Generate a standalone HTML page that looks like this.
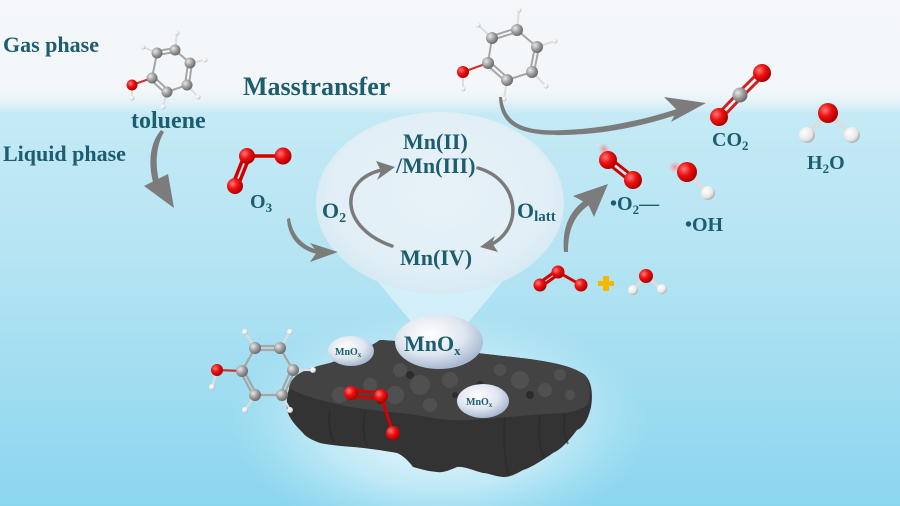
<!DOCTYPE html>
<html><head><meta charset="utf-8"><style>
html,body{margin:0;padding:0;background:#fff;width:900px;height:506px;overflow:hidden}
svg{display:block}
text{font-family:"Liberation Serif",serif;font-weight:bold;fill:#1c5d70}
</style></head><body>
<svg width="900" height="506" viewBox="0 0 900 506" xmlns="http://www.w3.org/2000/svg">
<defs>
<linearGradient id="bg" x1="0" y1="0" x2="0" y2="1">
<stop offset="0" stop-color="#f5f7fa"/>
<stop offset="0.18" stop-color="#f3f7fa"/>
<stop offset="0.2" stop-color="#e4f3f8"/>
<stop offset="0.225" stop-color="#c4eaf5"/>
<stop offset="0.5" stop-color="#b6e4f3"/>
<stop offset="1" stop-color="#8bd6ef"/>
</linearGradient>
<radialGradient id="glow" gradientUnits="userSpaceOnUse" cx="440" cy="425" r="210" gradientTransform="translate(440,425) scale(1,0.55) translate(-440,-425)">
<stop offset="0" stop-color="#ffffff" stop-opacity="0.9"/>
<stop offset="0.55" stop-color="#e8f7fc" stop-opacity="0.55"/>
<stop offset="1" stop-color="#c8eef8" stop-opacity="0"/>
</radialGradient>
<radialGradient id="bub" cx="0.5" cy="0.45" r="0.55">
<stop offset="0" stop-color="#eaf3f8"/>
<stop offset="0.8" stop-color="#e3eff6"/>
<stop offset="1" stop-color="#d6e9f3"/>
</radialGradient>
<radialGradient id="mn" cx="0.4" cy="0.35" r="0.65">
<stop offset="0" stop-color="#ffffff"/>
<stop offset="0.6" stop-color="#dfe6f0"/>
<stop offset="1" stop-color="#a9b9d0"/>
</radialGradient>
<radialGradient id="gC" cx="0.35" cy="0.35" r="0.65">
<stop offset="0" stop-color="#e8e8e8"/><stop offset="0.6" stop-color="#9a9a9a"/><stop offset="1" stop-color="#6d6d6d"/>
</radialGradient>
<radialGradient id="gO" cx="0.35" cy="0.35" r="0.65">
<stop offset="0" stop-color="#ff7a7a"/><stop offset="0.5" stop-color="#ee1111"/><stop offset="1" stop-color="#b00000"/>
</radialGradient>
<radialGradient id="gH" cx="0.35" cy="0.35" r="0.65">
<stop offset="0" stop-color="#ffffff"/><stop offset="0.7" stop-color="#e8e8e8"/><stop offset="1" stop-color="#b5b5b5"/>
</radialGradient>
<radialGradient id="pink" cx="0.5" cy="0.5" r="0.5">
<stop offset="0" stop-color="#ff7f8a" stop-opacity="0.9"/><stop offset="1" stop-color="#ff9aa2" stop-opacity="0"/>
</radialGradient>
</defs>

<rect width="900" height="506" fill="url(#bg)"/>
<rect x="230" y="310" width="420" height="196" fill="url(#glow)"/>

<!-- big bubble + cone -->
<polygon points="378,282 502,282 462,330 418,330" fill="#ffffff" opacity="0.45"/>
<ellipse cx="440" cy="203" rx="124" ry="91" fill="url(#bub)" opacity="0.95"/>

<!-- cycle arrows -->
<g fill="none" stroke="#7b7b7b" stroke-width="3.5" stroke-linecap="round">
<path d="M392,246 C340,228 338,180 382,170"/>
<path d="M478,168 C520,180 525,230 488,246"/>
</g>
<path d="M395,167 L376,161 L381,171 L377,180 Z" fill="#7b7b7b"/>
<path d="M480,247 L498,252 L492,243 L495,236 Z" fill="#7b7b7b"/>

<text x="403" y="149" font-size="22">Mn(II)</text>
<text x="396" y="173" font-size="22">/Mn(III)</text>
<text x="400" y="265" font-size="22">Mn(IV)</text>
<text x="322" y="218" font-size="22">O<tspan font-size="14" dy="4">2</tspan></text>
<text x="517" y="218" font-size="22">O<tspan font-size="15" dy="3">latt</tspan></text>

<!-- catalyst -->
<path d="M297,375 C305,370 313,367 330,363 C350,356 365,350 380,340 C420,342 450,350 477,353 C500,356 530,358 553,363 C568,366 578,370 585,375 C592,382 593,395 591,407 C588,420 583,428 577,430 C568,442 560,450 553,453 C540,462 530,468 523,470 C513,476 508,477 503,477 C493,476 488,473 483,473 C472,470 464,466 457,467 C450,470 443,473 437,472 C425,471 418,468 413,467 C408,460 402,455 397,453 C380,450 365,448 353,447 C340,446 330,445 320,443 C312,440 306,437 303,433 C295,425 289,418 287,410 C286,398 288,385 297,375 Z" fill="#333333"/>
<path d="M297,375 C305,370 313,367 330,363 C350,356 365,350 380,340 C420,342 450,350 477,353 C500,356 530,358 553,363 C568,366 578,370 585,375 C590,382 591,395 588,405 C580,410 570,413 560,413 C530,415 500,418 470,420 C450,421 430,418 410,414 C390,412 370,410 350,407 C325,402 300,395 289,388 C290,382 293,378 297,375 Z" fill="#434343"/>
<g fill="#555" opacity="0.75">
<circle cx="420" cy="385" r="10"/><circle cx="450" cy="380" r="8"/><circle cx="395" cy="395" r="9"/>
<circle cx="520" cy="380" r="9"/><circle cx="545" cy="390" r="7"/><circle cx="470" cy="400" r="9"/>
<circle cx="370" cy="385" r="7"/><circle cx="500" cy="370" r="6"/><circle cx="560" cy="375" r="6"/>
<circle cx="340" cy="395" r="8"/><circle cx="430" cy="405" r="7"/><circle cx="400" cy="370" r="7"/><circle cx="570" cy="395" r="5"/>
</g>
<g fill="#2a2a2a" opacity="0.9">
<circle cx="410" cy="375" r="4"/><circle cx="480" cy="385" r="4"/><circle cx="530" cy="395" r="4"/><circle cx="380" cy="400" r="4"/><circle cx="455" cy="395" r="3"/>
</g>
<g stroke="#2a2a2a" stroke-width="2" opacity="0.6" fill="none">
<path d="M330,410 C328,425 330,435 334,442"/><path d="M365,412 C362,428 364,440 368,448"/>
<path d="M505,418 C503,440 505,460 508,475"/><path d="M540,416 C538,435 540,450 544,458"/><path d="M565,414 C563,428 565,438 568,444"/>
</g>

<!-- MnOx bubbles -->
<ellipse cx="439" cy="342" rx="44" ry="27" fill="url(#mn)"/>
<text x="404" y="351" font-size="22">MnO<tspan font-size="13" dy="4">x</tspan></text>
<ellipse cx="351" cy="351" rx="23" ry="15" fill="url(#mn)"/>
<text x="335" y="355" font-size="10">MnO<tspan font-size="7" dy="2">x</tspan></text>
<ellipse cx="483" cy="401" rx="26" ry="17" fill="url(#mn)"/>
<text x="466" y="405" font-size="10">MnO<tspan font-size="7" dy="2">x</tspan></text>

<!-- O3 on catalyst -->
<g stroke="#d40000" stroke-width="3">
<line x1="351" y1="393" x2="381" y2="396" transform="translate(0,-3)"/>
<line x1="351" y1="393" x2="381" y2="396" transform="translate(0,3)"/>
<line x1="381" y1="396" x2="393" y2="433"/>
</g>
<circle cx="351" cy="393" r="7" fill="url(#gO)"/>
<circle cx="381" cy="396" r="7" fill="url(#gO)"/>
<circle cx="393" cy="433" r="7" fill="url(#gO)"/>

<!-- lower-left molecule -->
<g stroke="#a6a6a6" stroke-width="2.2">
<line x1="255" y1="348" x2="280" y2="348" transform="translate(0,-2)"/><line x1="255" y1="348" x2="280" y2="348" transform="translate(0,2)"/>
<line x1="280" y1="348" x2="293" y2="370"/>
<line x1="293" y1="370" x2="282" y2="395" transform="translate(-2,0)"/><line x1="293" y1="370" x2="282" y2="395" transform="translate(2,0)"/>
<line x1="282" y1="395" x2="255" y2="395"/>
<line x1="255" y1="395" x2="242" y2="371" transform="translate(-2,0)"/><line x1="255" y1="395" x2="242" y2="371" transform="translate(2,0)"/>
<line x1="242" y1="371" x2="255" y2="348"/>
<line x1="242" y1="371" x2="217" y2="370" stroke="#c33"/>
<line x1="255" y1="348" x2="245" y2="332" stroke="#ddd"/><line x1="280" y1="348" x2="290" y2="332" stroke="#ddd"/>
<line x1="293" y1="370" x2="313" y2="370" stroke="#ddd"/><line x1="282" y1="395" x2="290" y2="410" stroke="#ddd"/>
<line x1="255" y1="395" x2="245" y2="410" stroke="#ddd"/><line x1="217" y1="370" x2="212" y2="387" stroke="#ddd"/>
</g>
<g fill="url(#gH)"><circle cx="245" cy="332" r="3"/><circle cx="290" cy="332" r="3"/><circle cx="313" cy="370" r="3"/><circle cx="290" cy="410" r="3"/><circle cx="245" cy="410" r="3"/><circle cx="212" cy="387" r="3"/></g>
<g fill="url(#gC)"><circle cx="255" cy="348" r="6"/><circle cx="280" cy="348" r="6"/><circle cx="293" cy="370" r="6"/><circle cx="282" cy="395" r="6"/><circle cx="255" cy="395" r="6"/><circle cx="242" cy="371" r="6"/></g>
<circle cx="217" cy="370" r="6" fill="url(#gO)"/>

<!-- top-left toluene -->
<g stroke="#a6a6a6" stroke-width="2">
<line x1="157" y1="53" x2="175" y2="50" transform="translate(0,-2)"/><line x1="157" y1="53" x2="175" y2="50" transform="translate(0,2)"/>
<line x1="175" y1="50" x2="190" y2="63"/>
<line x1="190" y1="63" x2="187" y2="85" transform="translate(-2,0)"/><line x1="190" y1="63" x2="187" y2="85" transform="translate(2,0)"/>
<line x1="187" y1="85" x2="167" y2="92"/>
<line x1="167" y1="92" x2="152" y2="78" transform="translate(-1.5,1.5)"/><line x1="167" y1="92" x2="152" y2="78" transform="translate(1.5,-1.5)"/>
<line x1="152" y1="78" x2="157" y2="53"/>
<line x1="152" y1="78" x2="132" y2="85" stroke="#c33"/>
<line x1="175" y1="50" x2="177" y2="33" stroke="#ddd"/><line x1="157" y1="53" x2="143" y2="47" stroke="#ddd"/>
<line x1="190" y1="63" x2="205" y2="60" stroke="#ddd"/><line x1="187" y1="85" x2="198" y2="97" stroke="#ddd"/>
<line x1="167" y1="92" x2="163" y2="107" stroke="#ddd"/><line x1="132" y1="85" x2="132" y2="98" stroke="#ddd"/>
</g>
<g fill="url(#gH)"><circle cx="177" cy="33" r="2.5"/><circle cx="143" cy="47" r="2.5"/><circle cx="205" cy="60" r="2.5"/><circle cx="198" cy="97" r="2.5"/><circle cx="163" cy="107" r="2.5"/><circle cx="132" cy="98" r="2.5"/></g>
<g fill="url(#gC)"><circle cx="157" cy="53" r="5.5"/><circle cx="175" cy="50" r="5.5"/><circle cx="190" cy="63" r="5.5"/><circle cx="187" cy="85" r="5.5"/><circle cx="167" cy="92" r="5.5"/><circle cx="152" cy="78" r="5.5"/></g>
<circle cx="132" cy="85" r="5.5" fill="url(#gO)"/>

<!-- top-center toluene -->
<g stroke="#a6a6a6" stroke-width="2">
<line x1="492" y1="38" x2="517" y2="30" transform="translate(0,-2)"/><line x1="492" y1="38" x2="517" y2="30" transform="translate(0,2)"/>
<line x1="517" y1="30" x2="537" y2="47"/>
<line x1="537" y1="47" x2="532" y2="72" transform="translate(-2,0)"/><line x1="537" y1="47" x2="532" y2="72" transform="translate(2,0)"/>
<line x1="532" y1="72" x2="507" y2="80"/>
<line x1="507" y1="80" x2="488" y2="63" transform="translate(-1.5,1.5)"/><line x1="507" y1="80" x2="488" y2="63" transform="translate(1.5,-1.5)"/>
<line x1="488" y1="63" x2="492" y2="38"/>
<line x1="488" y1="63" x2="463" y2="72" stroke="#c33"/>
<line x1="492" y1="38" x2="478" y2="25" stroke="#ddd"/><line x1="517" y1="30" x2="519" y2="10" stroke="#ddd"/>
<line x1="537" y1="47" x2="555" y2="41" stroke="#ddd"/><line x1="532" y1="72" x2="546" y2="86" stroke="#ddd"/>
<line x1="507" y1="80" x2="504" y2="99" stroke="#ddd"/><line x1="463" y1="72" x2="463" y2="89" stroke="#ddd"/>
</g>
<g fill="url(#gH)"><circle cx="478" cy="25" r="2.5"/><circle cx="519" cy="10" r="2.5"/><circle cx="555" cy="41" r="2.5"/><circle cx="546" cy="86" r="2.5"/><circle cx="504" cy="99" r="2.5"/><circle cx="463" cy="89" r="2.5"/></g>
<g fill="url(#gC)"><circle cx="492" cy="38" r="6"/><circle cx="517" cy="30" r="6"/><circle cx="537" cy="47" r="6"/><circle cx="532" cy="72" r="6"/><circle cx="507" cy="80" r="6"/><circle cx="488" cy="63" r="6"/></g>
<circle cx="463" cy="72" r="6" fill="url(#gO)"/>

<!-- O3 molecule -->
<g stroke="#d40000" stroke-width="3.5">
<line x1="247" y1="156" x2="283" y2="156"/>
<line x1="247" y1="156" x2="235" y2="186" transform="translate(-2.5,-1)"/>
<line x1="247" y1="156" x2="235" y2="186" transform="translate(2.5,1)"/>
</g>
<circle cx="247" cy="156" r="8" fill="url(#gO)"/>
<circle cx="283" cy="156" r="8.5" fill="url(#gO)"/>
<circle cx="235" cy="186" r="8" fill="url(#gO)"/>

<!-- CO2 -->
<g stroke-width="3">
<line x1="762" y1="73" x2="740" y2="95" stroke="#c22" transform="translate(-2,-2)"/>
<line x1="762" y1="73" x2="740" y2="95" stroke="#c22" transform="translate(2,2)"/>
<line x1="740" y1="95" x2="719" y2="117" stroke="#c22" transform="translate(-2,-2)"/>
<line x1="740" y1="95" x2="719" y2="117" stroke="#c22" transform="translate(2,2)"/>
</g>
<circle cx="762" cy="73" r="9" fill="url(#gO)"/>
<circle cx="719" cy="117" r="9" fill="url(#gO)"/>
<circle cx="740" cy="95" r="7.5" fill="url(#gC)"/>

<!-- H2O -->
<g stroke-width="4"><line x1="828" y1="113" x2="807" y2="135" stroke="#ddd"/><line x1="828" y1="113" x2="852" y2="135" stroke="#ddd"/></g>
<circle cx="828" cy="113" r="10" fill="url(#gO)"/>
<circle cx="807" cy="135" r="8" fill="url(#gH)"/>
<circle cx="852" cy="135" r="8" fill="url(#gH)"/>

<!-- O2- -->
<circle cx="604" cy="149" r="6" fill="url(#pink)"/>
<g stroke="#c00" stroke-width="3"><line x1="608" y1="160" x2="633" y2="180" transform="translate(-2,2)"/><line x1="608" y1="160" x2="633" y2="180" transform="translate(2,-2)"/></g>
<circle cx="608" cy="160" r="9" fill="url(#gO)"/>
<circle cx="633" cy="180" r="9" fill="url(#gO)"/>

<!-- OH -->
<circle cx="675" cy="167" r="6" fill="url(#pink)"/>
<line x1="687" y1="172" x2="708" y2="193" stroke="#ddd" stroke-width="4"/>
<circle cx="687" cy="172" r="10" fill="url(#gO)"/>
<circle cx="708" cy="193" r="7" fill="url(#gH)"/>

<!-- bottom O3 + H2O -->
<g stroke="#d40000" stroke-width="3">
<line x1="540" y1="285" x2="558" y2="272" transform="translate(-1.5,-1.5)"/>
<line x1="540" y1="285" x2="558" y2="272" transform="translate(1.5,1.5)"/>
<line x1="558" y1="272" x2="581" y2="285"/>
</g>
<circle cx="540" cy="285" r="6.5" fill="url(#gO)"/>
<circle cx="558" cy="272" r="6.5" fill="url(#gO)"/>
<circle cx="581" cy="285" r="6.5" fill="url(#gO)"/>
<path d="M603,276 h6 v5 h5 v5 h-5 v5 h-6 v-5 h-5 v-5 h5 z" fill="#f5b700"/>
<g stroke="#ddd" stroke-width="3"><line x1="646" y1="276" x2="633" y2="290"/><line x1="646" y1="276" x2="662" y2="289"/></g>
<circle cx="646" cy="276" r="7" fill="url(#gO)"/>
<circle cx="633" cy="290" r="5" fill="url(#gH)"/>
<circle cx="662" cy="289" r="5" fill="url(#gH)"/>

<!-- arrows -->
<g fill="#7c7c7c">
<path d="M161,130 C150,143 148,162 153,182 L159,181 C155,163 156,146 164,132 Z"/>
<path d="M144,186 L168,174 L174,208 Z"/>
<path d="M290,218 C292,234 302,246 318,250 L317,254 C300,250 288,238 287,219 Z"/>
<path d="M310,243 L338,252 L310,262 L317,252 Z"/>
<path d="M502,97 C505,125 525,132 565,130 C610,128 650,118 680,108 L682,113 C650,124 610,134 565,135 C520,136 500,126 499,97 Z"/>
<path d="M664,97 L706,103 L671,122 L677,110 Z"/>
<path d="M564,252 C562,230 568,212 585,200 L589,205 C573,216 568,232 568,252 Z"/>
<path d="M573,196 L608,184 L594,217 L588,204 Z"/>
</g>

<!-- labels -->
<text x="3" y="52" font-size="22">Gas phase</text>
<text x="3" y="161" font-size="22">Liquid phase</text>
<text x="131" y="128" font-size="24">toluene</text>
<text x="243" y="95" font-size="26">Masstransfer</text>
<text x="250" y="208" font-size="20">O<tspan font-size="13" dy="4">3</tspan></text>
<text x="712" y="146" font-size="20">CO<tspan font-size="13" dy="4">2</tspan></text>
<text x="807" y="169" font-size="20">H<tspan font-size="13" dy="4">2</tspan><tspan dy="-4">O</tspan></text>
<text x="610" y="210" font-size="20">•O<tspan font-size="13" dy="4">2</tspan><tspan dy="-4">—</tspan></text>
<text x="685" y="231" font-size="20">•OH</text>
</svg>
</body></html>
